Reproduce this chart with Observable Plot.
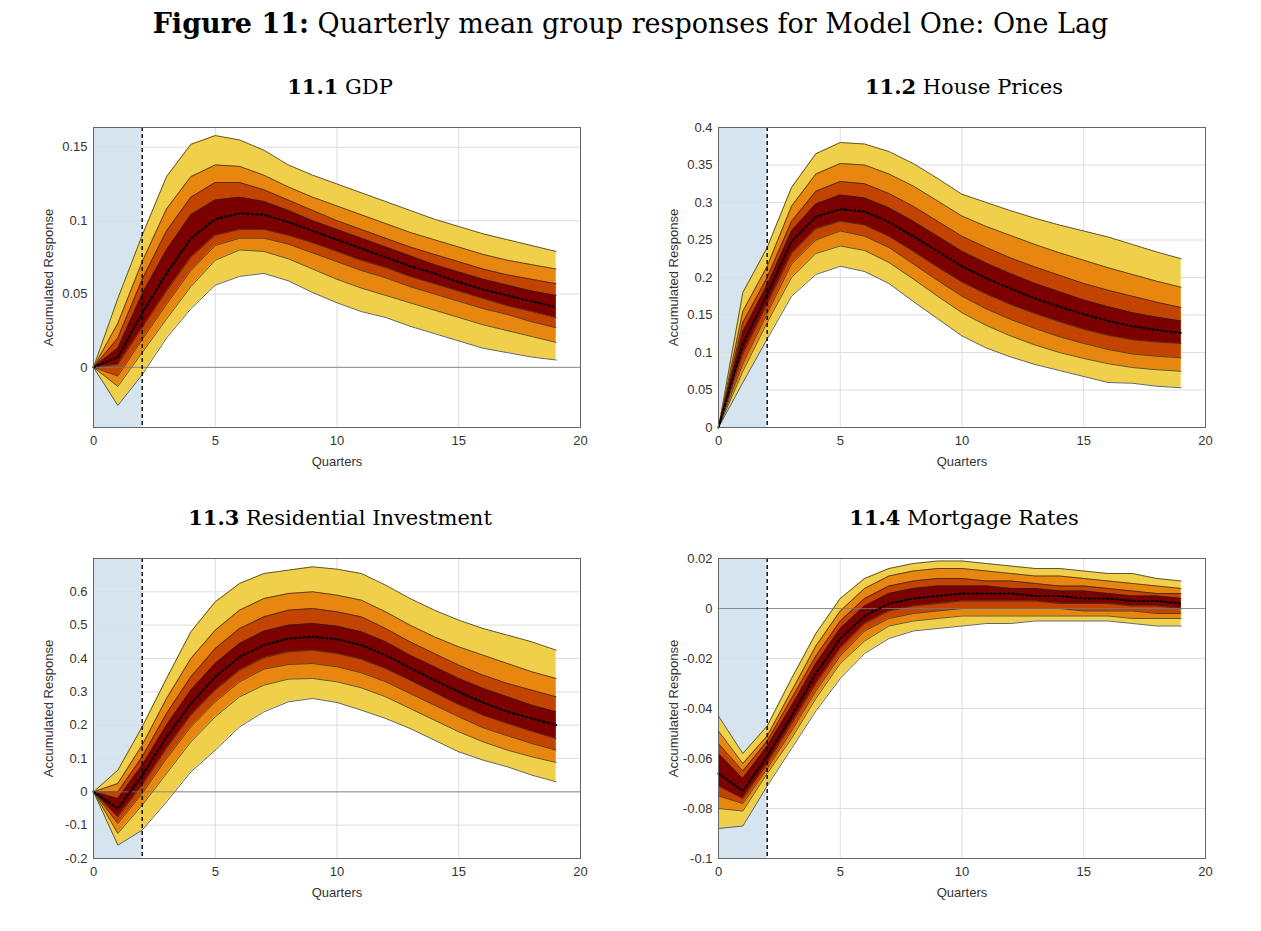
<!DOCTYPE html>
<html>
<head>
<meta charset="utf-8">
<script src="https://cdn.jsdelivr.net/npm/d3@7"></script>
<script src="https://cdn.jsdelivr.net/npm/@observablehq/plot@0.6"></script>
<style>
  body { margin: 0; background: #fff; width: 1261px; height: 931px; position: relative; overflow: hidden; }
  .title { position: absolute; left: 0; width: 1261px; top: 8px; text-align: center; font-family: "DejaVu Serif", "Liberation Serif", serif; font-size: 27px; }
  .sub { position: absolute; width: 600px; text-align: center; font-family: "DejaVu Serif", "Liberation Serif", serif; font-size: 21px; }
  .panel { position: absolute; }
</style>
</head>
<body>
<div class="title"><b>Figure 11:</b> Quarterly mean group responses for Model One: One Lag</div>
<div class="sub" style="left:40px;top:74px"><b>11.1</b> GDP</div>
<div class="sub" style="left:664px;top:74px"><b>11.2</b> House Prices</div>
<div class="sub" style="left:40px;top:505px"><b>11.3</b> Residential Investment</div>
<div class="sub" style="left:664px;top:505px"><b>11.4</b> Mortgage Rates</div>
<div id="p1" class="panel" style="left:0;top:117px"></div>
<div id="p2" class="panel" style="left:625px;top:117px"></div>
<div id="p3" class="panel" style="left:0;top:548px"></div>
<div id="p4" class="panel" style="left:625px;top:548px"></div>
<script>
// quarters 0..19
const quarters = d3.range(20)

// GDP bands (outer upper -> outer lower)
const gdp_u4 = [0,.047,.090,.130,.152,.158,.155,.148,.138,.131,.125,.119,.113,.107,.101,.096,.091,.087,.083,.079]
const gdp_u3 = [0,.030,.072,.108,.130,.138,.137,.131,.123,.116,.110,.104,.098,.092,.087,.082,.077,.073,.070,.067]
const gdp_u2 = [0,.020,.060,.093,.116,.126,.126,.121,.114,.107,.100,.094,.088,.082,.077,.072,.067,.063,.060,.057]
const gdp_u1 = [0,.013,.050,.080,.104,.114,.116,.113,.107,.100,.094,.088,.082,.076,.070,.065,.060,.056,.052,.049]
const gdp_med = [0,.007,.037,.064,.088,.101,.105,.104,.099,.093,.087,.081,.075,.069,.064,.058,.053,.049,.045,.041]
const gdp_l1 = [0,.002,.027,.052,.075,.090,.094,.094,.090,.085,.079,.073,.068,.062,.057,.052,.047,.042,.038,.034]
const gdp_l2 = [0,-.006,.019,.043,.066,.083,.088,.088,.084,.078,.072,.066,.061,.055,.050,.045,.040,.036,.031,.027]
const gdp_l3 = [0,-.013,.010,.033,.055,.073,.080,.079,.074,.067,.060,.054,.049,.044,.039,.034,.029,.025,.021,.017]
const gdp_l4 = [0,-.026,-.005,.020,.040,.056,.062,.064,.059,.051,.044,.038,.034,.028,.023,.018,.013,.010,.007,.005]

// House prices
const hp_u4 = [0,.180,.240,.320,.365,.380,.378,.368,.352,.332,.311,.300,.289,.279,.270,.262,.254,.244,.234,.225]
const hp_u3 = [0,.155,.215,.295,.338,.352,.350,.338,.322,.302,.282,.268,.256,.244,.233,.223,.213,.204,.195,.187]
const hp_u2 = [0,.140,.200,.275,.315,.328,.325,.312,.295,.275,.255,.240,.226,.214,.203,.192,.183,.175,.167,.160]
const hp_u1 = [0,.128,.190,.262,.298,.310,.306,.293,.275,.255,.235,.219,.205,.192,.181,.170,.161,.153,.147,.142]
const hp_med = [0,.112,.178,.248,.281,.291,.288,.274,.255,.235,.215,.199,.185,.172,.161,.151,.142,.135,.130,.126]
const hp_l1 = [0,.098,.165,.232,.265,.275,.270,.255,.235,.214,.194,.178,.164,.152,.141,.131,.123,.117,.114,.112]
const hp_l2 = [0,.085,.152,.218,.250,.262,.255,.240,.218,.196,.175,.158,.144,.132,.121,.112,.104,.098,.095,.093]
const hp_l3 = [0,.075,.140,.200,.232,.242,.236,.220,.198,.175,.153,.136,.122,.110,.100,.092,.085,.080,.077,.075]
const hp_l4 = [0,.060,.118,.175,.204,.215,.208,.192,.168,.145,.122,.106,.094,.084,.076,.068,.060,.059,.055,.053]

// Residential investment
const ri_u4 = [0,.065,.195,.340,.480,.570,.625,.655,.665,.675,.668,.655,.620,.580,.545,.515,.490,.470,.450,.425]
const ri_u3 = [0,.025,.140,.280,.400,.485,.545,.580,.595,.600,.590,.575,.540,.500,.465,.435,.410,.385,.360,.340]
const ri_u2 = [0,.000,.105,.235,.345,.430,.490,.525,.545,.550,.540,.525,.490,.450,.415,.380,.350,.325,.305,.285]
const ri_u1 = [0,-.020,.080,.200,.305,.385,.445,.482,.500,.505,.497,.480,.450,.410,.375,.340,.310,.285,.260,.240]
const ri_med = [0,-.050,.050,.165,.265,.345,.405,.440,.460,.465,.458,.440,.410,.372,.335,.300,.268,.240,.220,.200]
const ri_l1 = [0,-.075,.020,.130,.230,.305,.365,.402,.420,.425,.415,.398,.370,.335,.298,.262,.230,.205,.182,.160]
const ri_l2 = [0,-.095,-.005,.100,.195,.270,.330,.368,.382,.385,.375,.357,.330,.295,.260,.225,.192,.168,.145,.125]
const ri_l3 = [0,-.125,-.040,.055,.150,.225,.285,.320,.338,.340,.330,.312,.285,.250,.215,.180,.150,.125,.105,.088]
const ri_l4 = [0,-.160,-.115,-.030,.060,.125,.195,.240,.270,.280,.268,.245,.220,.190,.155,.120,.095,.075,.050,.030]

// Mortgage rates
const mr_u4 = [-.043,-.058,-.047,-.028,-.010,.004,.012,.016,.018,.019,.019,.018,.017,.016,.016,.015,.014,.014,.012,.011]
const mr_u3 = [-.049,-.062,-.051,-.033,-.015,-.001,.008,.013,.015,.016,.016,.015,.014,.013,.013,.012,.011,.010,.009,.008]
const mr_u2 = [-.054,-.065,-.053,-.036,-.019,-.005,.004,.009,.011,.012,.012,.011,.011,.010,.009,.009,.008,.007,.006,.006]
const mr_u1 = [-.058,-.068,-.055,-.039,-.022,-.008,.001,.006,.008,.009,.009,.009,.008,.008,.007,.007,.006,.005,.005,.004]
const mr_med = [-.066,-.073,-.059,-.043,-.026,-.012,-.003,.002,.004,.005,.006,.006,.006,.005,.005,.004,.004,.003,.003,.002]
const mr_l1 = [-.071,-.076,-.062,-.046,-.030,-.016,-.006,-.001,.001,.002,.003,.003,.003,.003,.002,.002,.002,.001,.001,.000]
const mr_l2 = [-.075,-.078,-.064,-.049,-.033,-.019,-.009,-.004,-.002,-.001,.000,.000,.000,.000,.000,-.001,-.001,-.001,-.002,-.002]
const mr_l3 = [-.080,-.081,-.066,-.052,-.036,-.022,-.013,-.007,-.005,-.004,-.003,-.003,-.003,-.003,-.003,-.003,-.003,-.004,-.004,-.004]
const mr_l4 = [-.088,-.087,-.071,-.056,-.041,-.028,-.018,-.012,-.009,-.008,-.007,-.006,-.006,-.005,-.005,-.005,-.005,-.006,-.007,-.007]

const bandColors = ['#f0cf4b', '#e8870f', '#c34400', '#7c0000']
const xTicks = [0, 5, 10, 15, 20]

function panel(sel, uppers, lowers, med, yDomain, yTicks) {
  const fmt = d => String(+d.toFixed(3))
  const marks = [
    Plot.rect([0], {x1: 0, x2: 2, y1: yDomain[0], y2: yDomain[1], fill: '#d6e4f0'}),
    Plot.gridX(xTicks, {stroke: '#ddd', strokeOpacity: 1}),
    Plot.gridY(yTicks, {stroke: '#ddd', strokeOpacity: 1}),
  ]
  uppers.forEach((u, i) => {
    const lo = lowers[i]
    marks.push(Plot.areaY(quarters, {x: d => d, y1: d => lo[d], y2: d => u[d], fill: bandColors[i], fillOpacity: 1}))
    marks.push(Plot.lineY(quarters, {x: d => d, y: d => u[d], stroke: '#222', strokeWidth: 0.7}))
    marks.push(Plot.lineY(quarters, {x: d => d, y: d => lo[d], stroke: '#222', strokeWidth: 0.7}))
  })
  marks.push(
    Plot.ruleY([0], {x1: 0, x2: 20, stroke: '#777', strokeWidth: 0.8}),
    Plot.lineY(quarters, {x: d => d, y: d => med[d], stroke: '#000', strokeWidth: 2.2, strokeDasharray: '1.5,3'}),
    Plot.ruleX([2], {stroke: '#000', strokeWidth: 1.4, strokeDasharray: '4,3'}),
    Plot.frame({stroke: '#666'})
  )
  const chart = Plot.plot({
    width: 600, height: 373,
    marginLeft: 93, marginRight: 20, marginTop: 10, marginBottom: 63,
    style: {fontFamily: 'Liberation Sans, Arial, sans-serif', fontSize: '13px', color: '#333'},
    x: {domain: [0, 20], ticks: xTicks, tickSize: 0, tickPadding: 8, label: 'Quarters', labelAnchor: 'center', labelArrow: 'none', labelOffset: 38},
    y: {domain: yDomain, ticks: yTicks, tickFormat: fmt, tickSize: 0, tickPadding: 6, label: 'Accumulated Response', labelAnchor: 'center', labelArrow: 'none', labelOffset: 50},
    marks
  })
  d3.select(sel).append(() => chart)
}

panel('#p1', [gdp_u4, gdp_u3, gdp_u2, gdp_u1], [gdp_l4, gdp_l3, gdp_l2, gdp_l1], gdp_med, [-0.041, 0.1635], [0, 0.05, 0.1, 0.15])
panel('#p2', [hp_u4, hp_u3, hp_u2, hp_u1], [hp_l4, hp_l3, hp_l2, hp_l1], hp_med, [0, 0.4], [0, 0.05, 0.1, 0.15, 0.2, 0.25, 0.3, 0.35, 0.4])
panel('#p3', [ri_u4, ri_u3, ri_u2, ri_u1], [ri_l4, ri_l3, ri_l2, ri_l1], ri_med, [-0.2, 0.7], [-0.2, -0.1, 0, 0.1, 0.2, 0.3, 0.4, 0.5, 0.6])
panel('#p4', [mr_u4, mr_u3, mr_u2, mr_u1], [mr_l4, mr_l3, mr_l2, mr_l1], mr_med, [-0.1, 0.02], [-0.1, -0.08, -0.06, -0.04, -0.02, 0, 0.02])
</script>
</body>
</html>
